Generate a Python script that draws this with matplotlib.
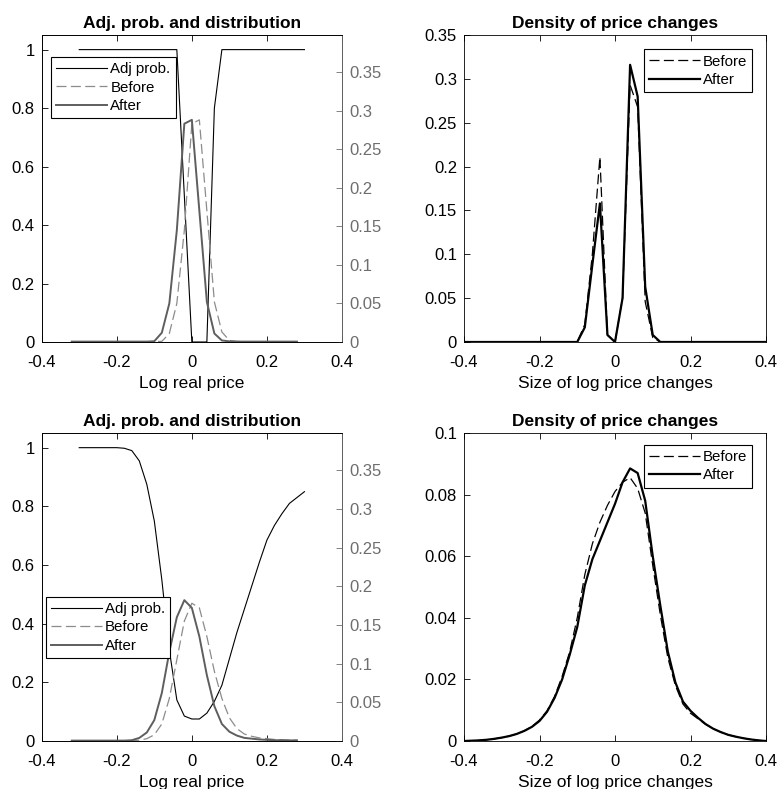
import numpy as np
import matplotlib
matplotlib.use("Agg")
import matplotlib.pyplot as plt
from matplotlib.ticker import FuncFormatter
from matplotlib.lines import Line2D

plt.rcParams['font.family'] = ['Liberation Sans', 'DejaVu Sans']

# ---------------- data ----------------
# grids
adj_x = [round(-0.30 + 0.02 * i, 2) for i in range(31)]
dist_x = [round(-0.32 + 0.02 * i, 2) for i in range(31)]
chg_x = [round(-0.40 + 0.02 * i, 2) for i in range(41)]

# top-left panel (case 1)
adj1 = [1, 1, 1, 1, 1, 1, 1, 1, 1, 1, 1, 1, 1, 1,
        0.5, 0, 0, 0, 0.8, 1, 1, 1, 1, 1, 1, 1, 1, 1, 1, 1, 1]
before1 = [0.0005, 0.0005, 0.0005, 0.0005, 0.0005, 0.0005, 0.0005, 0.0005,
           0.0005, 0.0005, 0.0005, 0.0005, 0.0008, 0.011, 0.05, 0.145,
           0.283, 0.288, 0.17, 0.052, 0.013, 0.002, 0.0008, 0.0005, 0.0005,
           0.0005, 0.0005, 0.0005, 0.0005, 0.0005, 0.0005]
after1 = [0.0005, 0.0005, 0.0005, 0.0005, 0.0005, 0.0005, 0.0005, 0.0005,
          0.0005, 0.0005, 0.0005, 0.001, 0.012, 0.05, 0.145, 0.283,
          0.288, 0.17, 0.052, 0.011, 0.002, 0.0008, 0.0005, 0.0005, 0.0005,
          0.0005, 0.0005, 0.0005, 0.0005, 0.0005, 0.0005]

# top-right panel (case 1)
chg_before1 = [0] * 15 + [0.0, 0.02, 0.10, 0.211, 0.008, 0.0, 0.05, 0.293,
                          0.268, 0.046, 0.005, 0.0] + [0] * 14
chg_after1 = [0] * 15 + [0.0, 0.0167, 0.088, 0.158, 0.008, 0.0, 0.05, 0.316,
                         0.28, 0.063, 0.008, 0.0] + [0] * 14

# bottom-left panel (case 2)
adj2 = [1.0, 1.0, 1.0, 1.0, 1.0, 1.0, 0.998, 0.99, 0.955, 0.875, 0.75, 0.55,
        0.31, 0.14, 0.085, 0.075, 0.075, 0.095, 0.135, 0.19, 0.28, 0.37,
        0.45, 0.53, 0.61, 0.685, 0.735, 0.775, 0.81, 0.83, 0.85]
before2 = [0.0005, 0.0005, 0.0005, 0.0005, 0.0005, 0.0005, 0.0005, 0.0005,
           0.0005, 0.001, 0.003, 0.008, 0.022, 0.055, 0.105, 0.155, 0.178,
           0.172, 0.135, 0.09, 0.055, 0.03, 0.016, 0.009, 0.006, 0.004,
           0.003, 0.002, 0.0015, 0.001, 0.001]
after2 = [0.0005, 0.0005, 0.0005, 0.0005, 0.0005, 0.0005, 0.0005, 0.0005,
          0.001, 0.004, 0.011, 0.027, 0.062, 0.115, 0.16, 0.182, 0.172,
          0.135, 0.085, 0.045, 0.022, 0.012, 0.007, 0.004, 0.003, 0.002,
          0.0015, 0.001, 0.001, 0.0008, 0.0008]

# bottom-right panel (case 2)
chg_before2 = [0.0, 0.0001, 0.0002, 0.0004, 0.0007, 0.0011, 0.0016, 0.0023,
               0.0033, 0.0047, 0.0068, 0.0098, 0.0145, 0.021, 0.029, 0.040,
               0.054, 0.064, 0.071, 0.0765, 0.081, 0.084, 0.0855, 0.082,
               0.074, 0.057, 0.041, 0.027, 0.018, 0.012, 0.009, 0.0072,
               0.0054, 0.004, 0.0029, 0.002, 0.0014, 0.0009, 0.0005, 0.0002,
               0.0]
chg_after2 = [0.0, 0.0001, 0.0002, 0.0004, 0.0007, 0.0011, 0.0016, 0.0023,
              0.0033, 0.0046, 0.0065, 0.0095, 0.014, 0.020, 0.028, 0.037,
              0.0505, 0.059, 0.065, 0.071, 0.077, 0.084, 0.0885, 0.087,
              0.078, 0.060, 0.044, 0.029, 0.019, 0.0128, 0.0098, 0.0075,
              0.0055, 0.004, 0.0029, 0.002, 0.0014, 0.0009, 0.0005, 0.0002,
              0.0]

titles_left = "Adj. prob. and distribution"
titles_right = "Density of price changes"
xlabel_left = "Log real price"
xlabel_right = "Size of log price changes"
labels_left = ["Adj prob.", "Before", "After"]
labels_right = ["Before", "After"]

# ---------------- styling ----------------
W, H = 777, 789
fig = plt.figure(figsize=(W / 100, H / 100), dpi=100)

GRAY_AFTER = '#5e5e5e'
GRAY_BEFORE = '#8c8c8c'
GRAY_AX = '#6e6e6e'
FS = 12
TFS = 12.5
LFS = 10.8
DASH = (8, 3.5)

fmt = FuncFormatter(lambda v, p: ('%g' % round(v, 4)).replace('\u2212', '-'))


def rect(l, t, r, b):
    return [l / W, 1 - b / H, (r - l) / W, (b - t) / H]


def style(ax):
    ax.tick_params(direction='in', length=4, labelsize=FS, top=True,
                   width=0.6)
    ax.tick_params(axis='x', pad=9.5)
    ax.tick_params(axis='y', pad=5)
    for s in ax.spines.values():
        s.set_linewidth(0.6)
    ax.xaxis.set_major_formatter(fmt)
    ax.yaxis.set_major_formatter(fmt)
    ax.set_xlim(-0.4, 0.4)
    ax.set_xticks([-0.4, -0.2, 0, 0.2, 0.4])


def left_panel(pos, adj, before, after, leg_anchor):
    ax = fig.add_axes(pos)
    style(ax)
    ax.tick_params(right=False)
    ax.set_ylim(0, 1.05)
    ax.set_yticks([0, 0.2, 0.4, 0.6, 0.8, 1])
    ax.plot(adj_x, adj, color='black', lw=0.8)
    ax2 = ax.twinx()
    ax2.set_ylim(0, 0.398)
    ax2.set_yticks([0, 0.05, 0.1, 0.15, 0.2, 0.25, 0.3, 0.35])
    ax2.yaxis.set_major_formatter(fmt)
    ax2.tick_params(direction='in', length=4, labelsize=FS, colors=GRAY_AX,
                    width=0.6, pad=5)
    ax2.spines['right'].set_color(GRAY_AX)
    for s in ax2.spines.values():
        s.set_linewidth(0.6)
    ax2.plot(dist_x, before, color=GRAY_BEFORE, lw=0.9, dashes=DASH)
    ax2.plot(dist_x, after, color=GRAY_AFTER, lw=1.4)
    ax.set_title(titles_left, fontsize=TFS, fontweight='bold', pad=5)
    ax.set_xlabel(xlabel_left, fontsize=TFS, labelpad=4)
    handles = [Line2D([], [], color='black', lw=0.8),
               Line2D([], [], color=GRAY_BEFORE, lw=0.9, dashes=DASH),
               Line2D([], [], color=GRAY_AFTER, lw=1.4)]
    leg = ax2.legend(handles, labels_left, loc='upper left',
                     bbox_to_anchor=leg_anchor, fontsize=LFS, frameon=True,
                     fancybox=False, edgecolor='black', framealpha=1,
                     handlelength=3.4, handletextpad=0.2, borderpad=0.35,
                     labelspacing=0.3, borderaxespad=0)
    leg.get_frame().set_linewidth(0.8)
    return ax


def right_panel(pos, before, after, ymax, yticks, leg_anchor):
    ax = fig.add_axes(pos)
    style(ax)
    ax.set_ylim(0, ymax)
    ax.set_yticks(yticks)
    ax.plot(chg_x, before, color='black', lw=0.9, dashes=DASH)
    ax.plot(chg_x, after, color='black', lw=1.6)
    ax.set_title(titles_right, fontsize=TFS, fontweight='bold', pad=5)
    ax.set_xlabel(xlabel_right, fontsize=TFS, labelpad=4)
    handles = [Line2D([], [], color='black', lw=0.9, dashes=DASH),
               Line2D([], [], color='black', lw=1.6)]
    leg = ax.legend(handles, labels_right, loc='upper right',
                    bbox_to_anchor=leg_anchor, fontsize=LFS, frameon=True,
                    fancybox=False, edgecolor='black', framealpha=1,
                    handlelength=3.4, handletextpad=0.2, borderpad=0.35,
                    labelspacing=0.3, borderaxespad=0)
    leg.get_frame().set_linewidth(0.8)
    return ax


left_panel(rect(41.7, 35, 342, 342), adj1, before1, after1, (0.031, 0.929))
right_panel(rect(464, 35, 766, 342), chg_before1, chg_after1, 0.35,
            [0, 0.05, 0.1, 0.15, 0.2, 0.25, 0.3, 0.35], (0.955, 0.953))
left_panel(rect(41.7, 433, 342, 741), adj2, before2, after2, (0.013, 0.469))
right_panel(rect(464, 433, 766, 741), chg_before2, chg_after2, 0.1,
            [0, 0.02, 0.04, 0.06, 0.08, 0.1], (0.955, 0.962))

fig.savefig('out.png', dpi=100)
